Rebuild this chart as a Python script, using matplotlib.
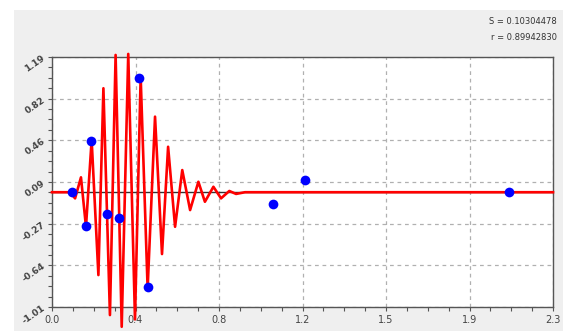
import matplotlib.pyplot as plt
from matplotlib.patches import Rectangle
import numpy as np

# wavelet trace: extrema (time, amplitude)
trace_t = [0.0, 0.083, 0.106, 0.133, 0.156, 0.182, 0.213, 0.236, 0.266, 0.292,
           0.320, 0.350, 0.381, 0.407, 0.439, 0.473, 0.505, 0.533, 0.565, 0.598,
           0.634, 0.672, 0.702, 0.741, 0.776, 0.814, 0.845, 0.886, 2.3]
trace_a = [0.0, 0.0, -0.054, 0.131, -0.304, 0.46, -0.729, 0.915, -1.081, 1.208,
           -1.184, 1.217, -1.119, 1.017, -0.846, 0.665, -0.544, 0.40, -0.304, 0.195,
           -0.157, 0.092, -0.084, 0.048, -0.054, 0.011, -0.015, 0.0, 0.0]

# sampled points (blue)
pts_t = [0.090, 0.156, 0.180, 0.251, 0.306, 0.401, 0.441, 1.013, 1.163, 2.10]
pts_a = [0.005, -0.295, 0.455, -0.19, -0.225, 1.008, -0.834, -0.107, 0.11, 0.0]

xticks = [0.0, 2.3/6, 2*2.3/6, 3*2.3/6, 4*2.3/6, 5*2.3/6, 2.3]
xlabels = ['0.0', '0.4', '0.8', '1.2', '1.5', '1.9', '2.3']
yticks = [-1.01 + i*2.2/6 for i in range(7)]
ylabels = ['-1.01', '-0.64', '-0.27', '0.09', '0.46', '0.82', '1.19']

fig = plt.figure(figsize=(5.63, 3.31), dpi=100)
fig.patch.set_facecolor('white')
fig.patches.append(Rectangle((14/563, 0), 1, 1 - 10/331, transform=fig.transFigure,
                             facecolor='#efefef', edgecolor='none', zorder=-10))

ax = fig.add_axes([52/563, 24/331, 501/563, 250/331])
ax.set_facecolor('white')
ax.set_xlim(0, 2.3)
ax.set_ylim(-1.01, 1.19)

ax.set_xticks(xticks)
ax.set_xticklabels(xlabels, fontsize=7, color='#444444')
ax.set_yticks(yticks)
ax.set_yticklabels(ylabels, fontsize=6.5, color='#444444', rotation=35, fontweight='bold')
ax.set_xticks(np.linspace(0, 2.3, 25), minor=True)
ax.set_yticks(np.linspace(-1.01, 1.19, 25), minor=True)
ax.tick_params(which='both', direction='out', length=3, width=0.8, color='#555555')
ax.tick_params(axis='x', pad=3)
ax.tick_params(axis='y', pad=1)

ax.grid(True, which='major', color='#b0b0b0', linestyle=(0, (3, 3)), linewidth=0.9)
for s in ax.spines.values():
    s.set_color('#555555')
    s.set_linewidth(1.0)

ax.axhline(0, color='#333333', linewidth=1.0, zorder=2)
ax.plot(trace_t, trace_a, color='red', linewidth=1.9, zorder=3, clip_on=False)
ax.plot(pts_t, pts_a, 'o', color='#0000ff', markersize=7, markeredgewidth=0, zorder=4)

fig.text(557/563, 1 - 22/331, 'S = 0.10304478', ha='right', va='center', fontsize=6, color='#333333')
fig.text(557/563, 1 - 37/331, 'r = 0.89942830', ha='right', va='center', fontsize=6, color='#333333')

fig.savefig('out.png', dpi=100, facecolor=fig.get_facecolor())
